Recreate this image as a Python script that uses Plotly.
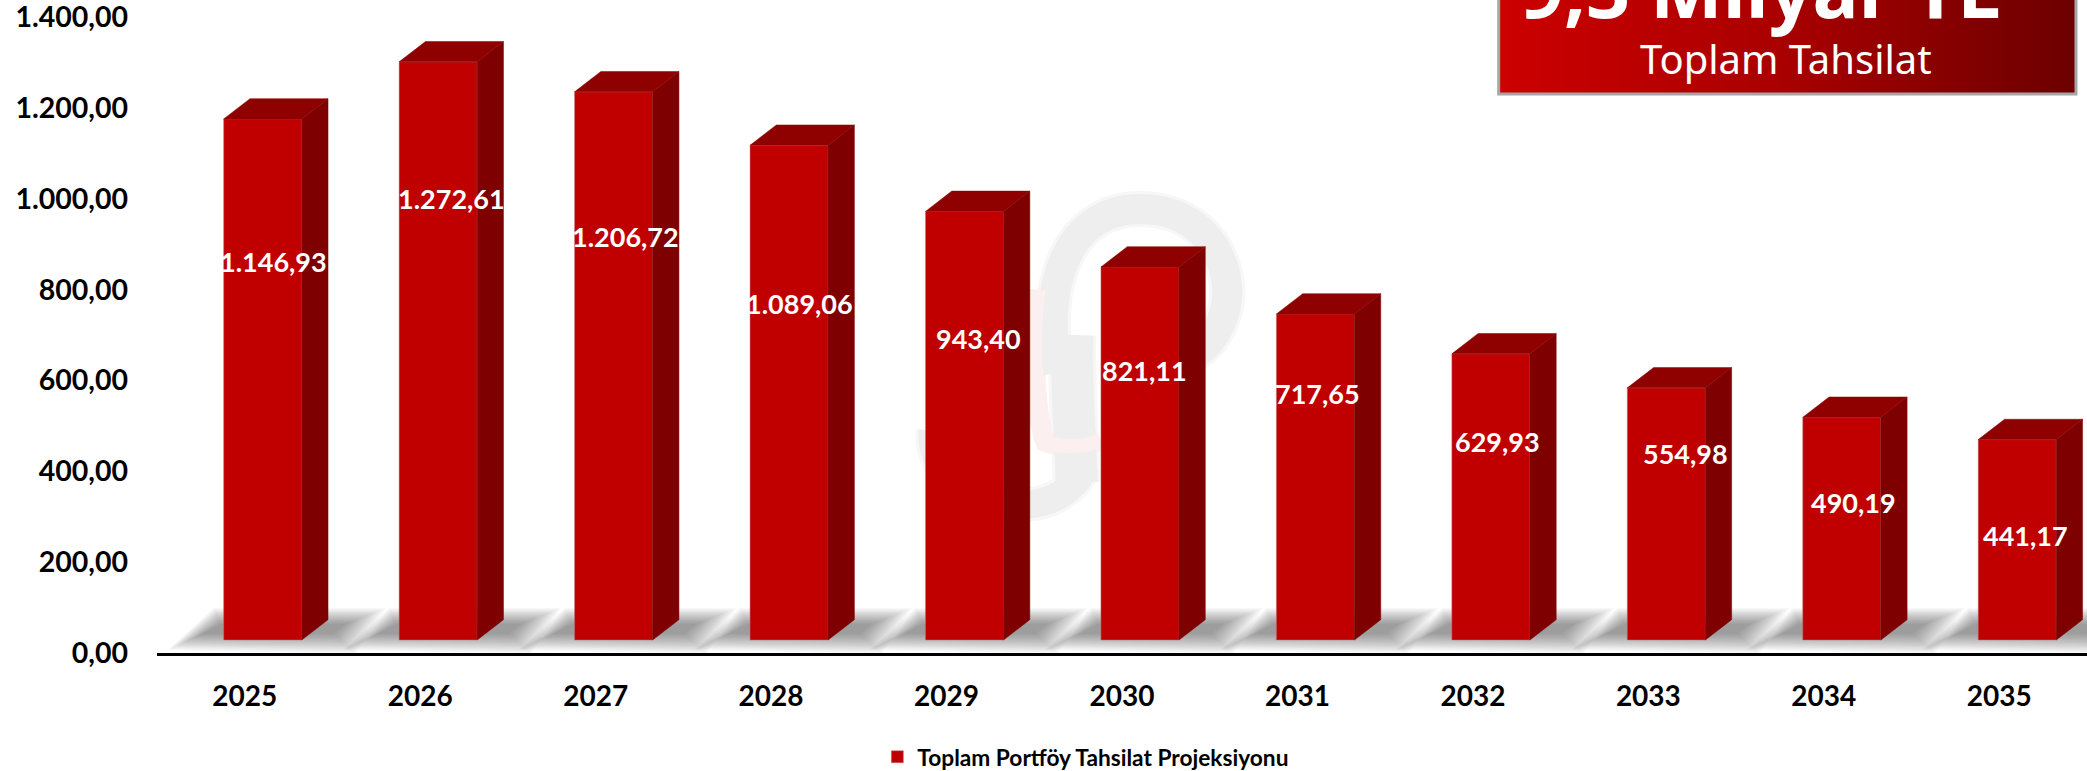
import plotly.graph_objects as go

# ---------- data ----------
YEARS = [2025, 2026, 2027, 2028, 2029, 2030, 2031, 2032, 2033, 2034, 2035]
VALUES = [1146.93, 1272.61, 1206.72, 1089.06, 943.40, 821.11, 717.65, 629.93, 554.98, 490.19, 441.17]
Y_TICKS = [0, 200, 400, 600, 800, 1000, 1200, 1400]
Y_TICK_LABELS = ["0,00", "200,00", "400,00", "600,00", "800,00", "1.000,00", "1.200,00", "1.400,00"]
DATA_LABELS = ["1.146,93", "1.272,61", "1.206,72", "1.089,06", "943,40", "821,11", "717,65", "629,93", "554,98", "490,19", "441,17"]
SERIES_NAME = "Toplam Portföy Tahsilat Projeksiyonu"
BOX_TITLE = "9,3 Milyar TL"
BOX_SUB = "Toplam Tahsilat"

# ---------- layout constants ----------
W, H = 2087, 771
L, AXIS_PX = 157, 653
PX_PER_YEAR = (W - 1 - L) / 11
PX_PER_UNIT = 0.4543
FLOOR = (AXIS_PX - 640) / PX_PER_UNIT      # bars stand on the 3D floor, above the axis line
BAR_OFF = -0.12
BAR_W = 78 / PX_PER_YEAR
DX = 26.3 / PX_PER_YEAR
DY = 20.3 / PX_PER_UNIT
# hand-placed label anchors of the original chart
LABEL_DX_PX = [29, 31, 30, 28, 32, 22, 20, 25, 37, 30, 26]
LABEL_Y_PX = [261, 198, 236, 303, 338, 370, 393, 441, 453, 502, 535]

FONT = "Lato"
RED, SIDE, TOP = "#C00000", "#7F0000", "#8F0000"


def ux(p):
    return (p - L) / PX_PER_YEAR


def uy(p):
    return (AXIS_PX - p) / PX_PER_UNIT


fig = go.Figure()

# front faces
fig.add_trace(go.Bar(
    x=YEARS, y=VALUES, base=FLOOR, width=BAR_W, offset=BAR_OFF, name=SERIES_NAME,
    marker=dict(color=RED, line=dict(color="rgba(205,110,110,0.7)", width=0.7)),
    hoverinfo="skip", showlegend=True,
))

# side and top faces, derived from the values
sx, sy, tx, ty = [], [], [], []
for yr, v in zip(YEARS, VALUES):
    xl = yr + BAR_OFF
    xr = xl + BAR_W
    top = FLOOR + v
    sx += [xr, xr + DX, xr + DX, xr, xr, None]
    sy += [FLOOR, FLOOR + DY, top + DY, top, FLOOR, None]
    tx += [xl, xl + DX, xr + DX, xr, xl, None]
    ty += [top, top + DY, top + DY, top, top, None]
fig.add_trace(go.Scatter(x=sx, y=sy, mode="lines", fill="toself", fillcolor=SIDE,
                         line=dict(color=SIDE, width=0.5), hoverinfo="skip", showlegend=False))
fig.add_trace(go.Scatter(x=tx, y=ty, mode="lines", fill="toself", fillcolor=TOP,
                         line=dict(color=TOP, width=0.5), hoverinfo="skip", showlegend=False))

# overlay axes in page pixels, for the decoration (call-out box, watermark)
box_l, box_r, box_b = 1498, 2075, 94
fig.add_trace(go.Scatter(
    x=[box_l, box_r, box_r, box_l, box_l], y=[-30, -30, box_b, box_b, -30],
    xaxis="x2", yaxis="y2", mode="lines", fill="toself",
    line=dict(color="#A6A6A6", width=3),
    fillgradient=dict(type="horizontal", colorscale=[[0, "#CC0000"], [0.5, "#A80000"], [1, "#6C0000"]]),
    hoverinfo="skip", showlegend=False,
))

shapes = []
# watermark (soft: each stroke drawn wide and pale, then narrower)
WM = [
    ("M 1058,372 C 1040,290 1065,209 1140,209 C 1208,209 1236,270 1224,312 C 1216,340 1200,352 1180,362", "#EEEEEE", 30),
    ("M 1072,335 C 1070,400 1076,440 1076,482", "#EEEEEE", 42),
    ("M 932,430 C 930,480 975,505 1020,505 C 1050,505 1075,490 1085,465", "#EEEEEE", 28),
    ("M 1038,290 C 1030,350 1036,420 1045,442 C 1070,450 1090,445 1100,440", "#FBEFEF", 14),
]
for path, color, width in WM:
    shapes.append(dict(type="path", xref="x2", yref="y2", path=path, fillcolor="rgba(0,0,0,0)",
                       line=dict(color="#F7F7F7" if color == "#EEEEEE" else color, width=width + 6), layer="below"))
for path, color, width in WM:
    shapes.append(dict(type="path", xref="x2", yref="y2", path=path, fillcolor="rgba(0,0,0,0)",
                       line=dict(color=color, width=width), layer="below"))

# blurred floor shadow: nested parallelograms, relative to each bar's front-left corner
OUTER = [(-56, 650), (-10, 608), (162, 608), (132, 654)]
CORE = [(-22, 634), (-3, 624), (122, 624), (110, 634)]
N = 16
for yr in YEARS:
    x0 = yr + BAR_OFF
    for k in range(N):
        f = k / (N - 1)
        pts = [(a[0] + (b[0] - a[0]) * f, a[1] + (b[1] - a[1]) * f) for a, b in zip(OUTER, CORE)]
        path = "M " + " L ".join(f"{x0 + ux(px + L):.4f},{uy(py):.2f}" for px, py in pts) + " Z"
        shapes.append(dict(type="path", xref="x", yref="y", path=path,
                           fillcolor="rgba(0,0,0,0.026)", line=dict(width=0), layer="below"))

# annotations
ann = []
for yr, txt, dx, py in zip(YEARS, DATA_LABELS, LABEL_DX_PX, LABEL_Y_PX):
    ann.append(dict(x=yr, y=uy(py), xref="x", yref="y", text=txt, showarrow=False, xshift=dx,
                    xanchor="center", yanchor="middle",
                    font=dict(family=FONT, size=27, color="white", weight=700)))
ann.append(dict(x=1760, y=17, xref="x2", yref="y2", text=BOX_TITLE, showarrow=False,
                xanchor="center", yanchor="bottom", yshift=-26,
                font=dict(family="Noto Sans", size=77, color="white", weight=700)))
ann.append(dict(x=1785, y=58, xref="x2", yref="y2", text=BOX_SUB, showarrow=False,
                xanchor="center", yanchor="middle",
                font=dict(family="Noto Sans", size=40, color="white")))

fig.update_layout(
    width=W, height=H, autosize=False,
    margin=dict(l=L, r=W - 1 - (L + 11 * PX_PER_YEAR), t=0, b=H - AXIS_PX, pad=0, autoexpand=False),
    paper_bgcolor="white", plot_bgcolor="white",
    barmode="overlay", shapes=shapes, annotations=ann,
    xaxis=dict(range=[YEARS[0] - 0.5, YEARS[-1] + 0.5], tickmode="array", tickvals=YEARS,
               ticktext=[str(y) for y in YEARS], showgrid=False, zeroline=False,
               showline=True, linecolor="black", linewidth=3, ticks="", ticklabelstandoff=16,
               tickfont=dict(family=FONT, size=28, color="black", weight=700)),
    yaxis=dict(range=[0, AXIS_PX / PX_PER_UNIT], tickmode="array", tickvals=Y_TICKS,
               ticktext=Y_TICK_LABELS, showgrid=False, zeroline=False, showline=False, ticks="",
               ticklabelstandoff=28, ticklabeloverflow="allow",
               tickfont=dict(family=FONT, size=28.5, color="black", weight=700)),
    xaxis2=dict(overlaying="x", range=[L, L + 11 * PX_PER_YEAR], visible=False, anchor="y2"),
    yaxis2=dict(overlaying="y", range=[AXIS_PX, 0], visible=False, anchor="x2"),
    legend=dict(orientation="h", x=(877 - L) / (11 * PX_PER_YEAR), xanchor="left",
                y=(AXIS_PX - 757) / AXIS_PX, yanchor="middle", bgcolor="rgba(0,0,0,0)",
                font=dict(family=FONT, size=22.7, color="black", weight=700)),
    showlegend=True,
)

fig.write_html("out.html", config={"displayModeBar": False},
               post_script='document.body.style.margin="0";')
